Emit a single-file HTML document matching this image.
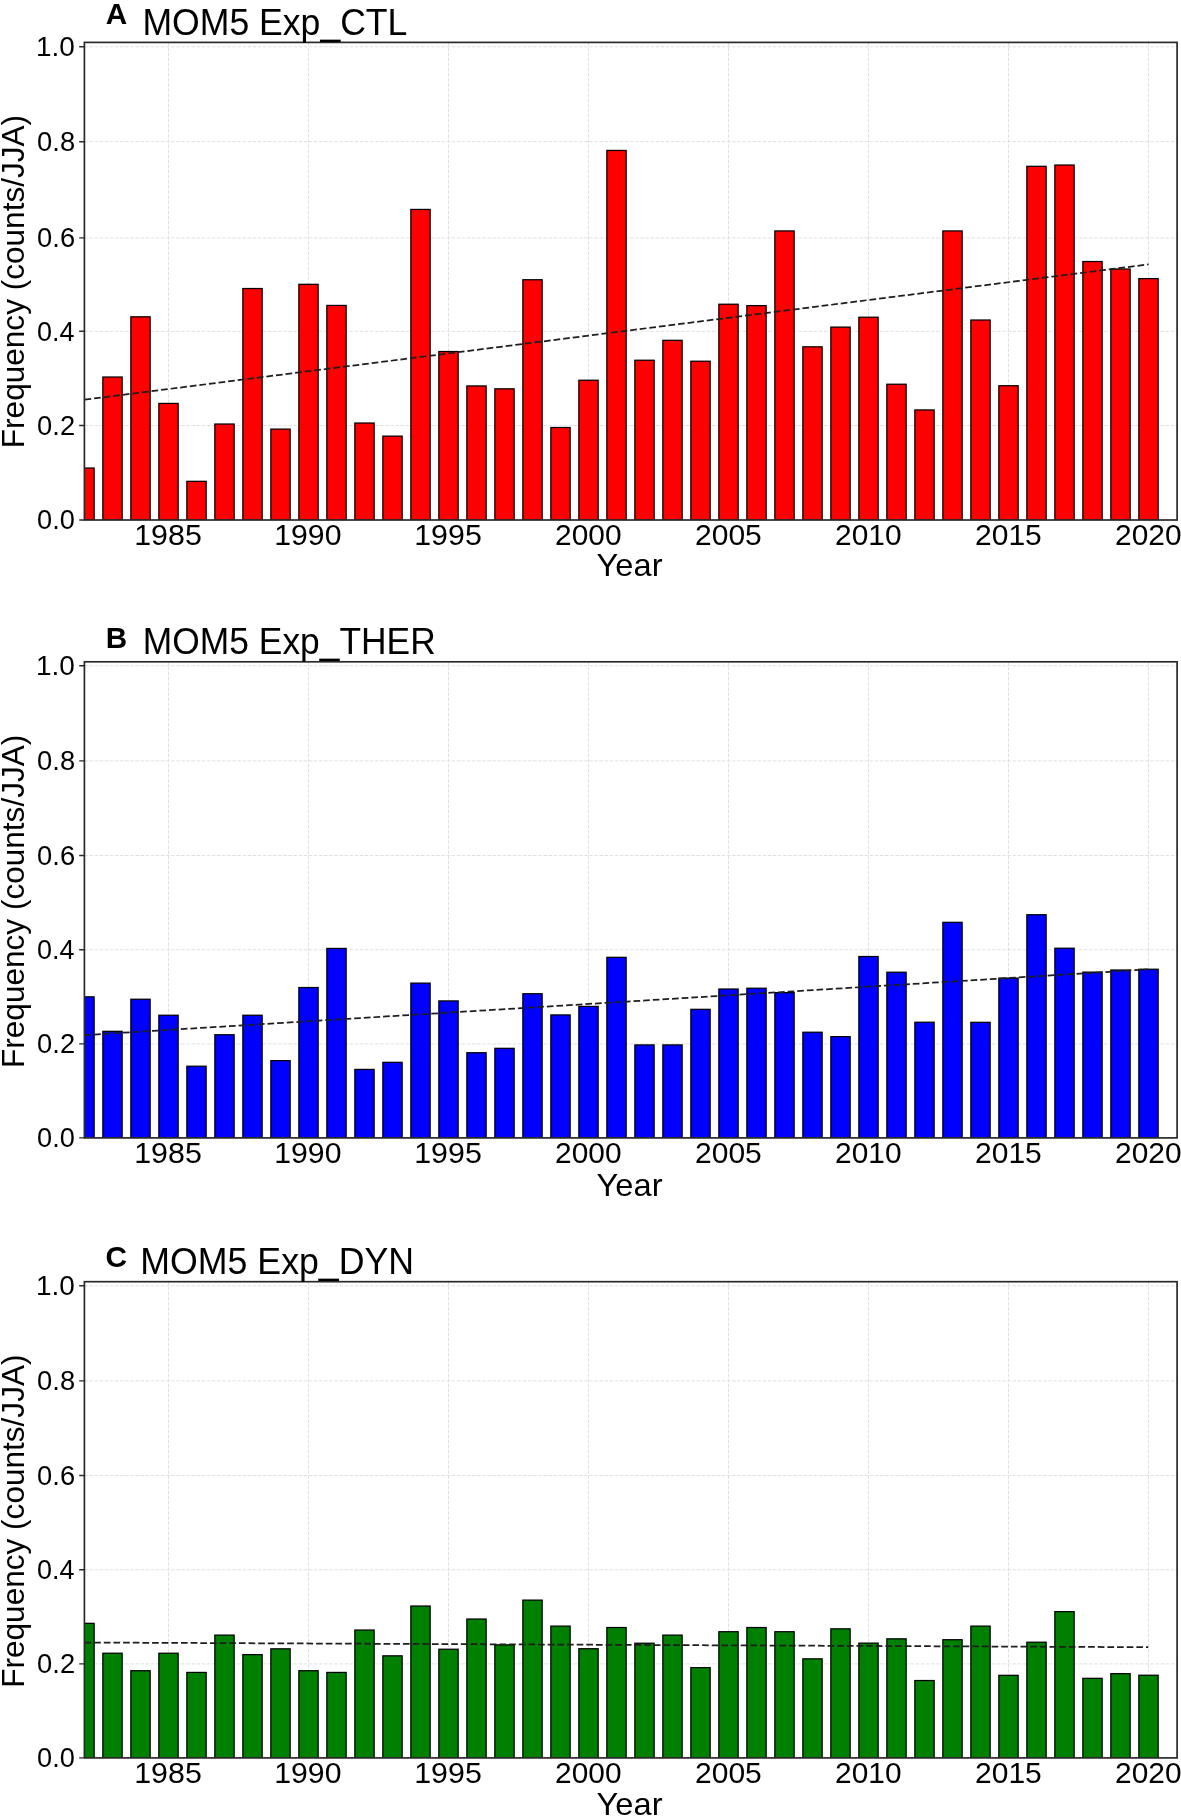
<!DOCTYPE html><html><head><meta charset="utf-8"><style>html,body{margin:0;padding:0;background:#fff;}svg{display:block;will-change:transform;}text{font-family:"Liberation Sans",sans-serif;fill:#000;}</style></head><body>
<svg width="1181" height="1817" viewBox="0 0 1181 1817">
<clipPath id="c0"><rect x="84.4" y="42.4" width="1092.6999999999998" height="477.6"/></clipPath>
<path d="M84.4 425.5H1177.1M84.4 331.3H1177.1M84.4 237.9H1177.1M84.4 141.7H1177.1M84.4 46.8H1177.1M168.5 42.4V520.0M308.5 42.4V520.0M448.5 42.4V520.0M588.5 42.4V520.0M728.5 42.4V520.0M868.5 42.4V520.0M1008.5 42.4V520.0M1148.5 42.4V520.0" stroke="#e0e0e0" stroke-width="1" stroke-dasharray="3.5 1.6" fill="none"/>
<g clip-path="url(#c0)" fill="#ff0000" stroke="#000" stroke-width="1.25"><rect x="74.85" y="468.02" width="19.3" height="51.98"/><rect x="102.85" y="377.02" width="19.3" height="142.98"/><rect x="130.85" y="316.82" width="19.3" height="203.18"/><rect x="158.85" y="403.43" width="19.3" height="116.57"/><rect x="186.85" y="481.32" width="19.3" height="38.68"/><rect x="214.85" y="424.02" width="19.3" height="95.98"/><rect x="242.85" y="288.52" width="19.3" height="231.48"/><rect x="270.85" y="429.12" width="19.3" height="90.88"/><rect x="298.85" y="284.32" width="19.3" height="235.68"/><rect x="326.85" y="305.43" width="19.3" height="214.57"/><rect x="354.85" y="423.02" width="19.3" height="96.98"/><rect x="382.85" y="436.12" width="19.3" height="83.88"/><rect x="410.85" y="209.43" width="19.3" height="310.57"/><rect x="438.85" y="351.52" width="19.3" height="168.48"/><rect x="466.85" y="385.93" width="19.3" height="134.07"/><rect x="494.85" y="388.82" width="19.3" height="131.18"/><rect x="522.85" y="279.73" width="19.3" height="240.27"/><rect x="550.85" y="427.52" width="19.3" height="92.48"/><rect x="578.85" y="380.23" width="19.3" height="139.77"/><rect x="606.85" y="150.43" width="19.3" height="369.57"/><rect x="634.85" y="360.23" width="19.3" height="159.77"/><rect x="662.85" y="340.32" width="19.3" height="179.68"/><rect x="690.85" y="361.23" width="19.3" height="158.77"/><rect x="718.85" y="304.23" width="19.3" height="215.77"/><rect x="746.85" y="305.62" width="19.3" height="214.38"/><rect x="774.85" y="230.93" width="19.3" height="289.07"/><rect x="802.85" y="346.82" width="19.3" height="173.18"/><rect x="830.85" y="327.12" width="19.3" height="192.88"/><rect x="858.85" y="317.23" width="19.3" height="202.77"/><rect x="886.85" y="384.23" width="19.3" height="135.77"/><rect x="914.85" y="409.93" width="19.3" height="110.07"/><rect x="942.85" y="230.93" width="19.3" height="289.07"/><rect x="970.85" y="320.02" width="19.3" height="199.98"/><rect x="998.85" y="385.73" width="19.3" height="134.27"/><rect x="1026.85" y="166.32" width="19.3" height="353.68"/><rect x="1054.85" y="165.03" width="19.3" height="354.98"/><rect x="1082.85" y="261.52" width="19.3" height="258.48"/><rect x="1110.85" y="269.02" width="19.3" height="250.98"/><rect x="1138.85" y="278.62" width="19.3" height="241.38"/></g>
<line x1="84.5" y1="399.7" x2="1148.5" y2="264.4" stroke="#1e1e1e" stroke-width="1.75" stroke-dasharray="6.7 2.95"/>
<rect x="84.4" y="42.4" width="1092.6999999999998" height="477.6" fill="none" stroke="#2a2a2a" stroke-width="1.7"/>
<path d="M79.2 520.0H84.4M79.2 425.5H84.4M79.2 331.3H84.4M79.2 237.9H84.4M79.2 141.7H84.4M79.2 46.8H84.4" stroke="#2a2a2a" stroke-width="1.4"/>
<text x="37.09" y="529.30" font-size="27" font-weight="normal" textLength="37.76" lengthAdjust="spacingAndGlyphs">0.0</text>
<text x="37.09" y="434.80" font-size="27" font-weight="normal" textLength="38.03" lengthAdjust="spacingAndGlyphs">0.2</text>
<text x="37.10" y="340.60" font-size="27" font-weight="normal" textLength="37.49" lengthAdjust="spacingAndGlyphs">0.4</text>
<text x="37.09" y="247.20" font-size="27" font-weight="normal" textLength="38.03" lengthAdjust="spacingAndGlyphs">0.6</text>
<text x="37.09" y="151.00" font-size="27" font-weight="normal" textLength="38.03" lengthAdjust="spacingAndGlyphs">0.8</text>
<text x="36.03" y="56.10" font-size="27" font-weight="normal" textLength="38.85" lengthAdjust="spacingAndGlyphs">1.0</text>
<text x="134.23" y="544.80" font-size="28.8" font-weight="normal" textLength="67.56" lengthAdjust="spacingAndGlyphs">1985</text>
<text x="274.24" y="544.80" font-size="28.8" font-weight="normal" textLength="67.28" lengthAdjust="spacingAndGlyphs">1990</text>
<text x="414.23" y="544.80" font-size="28.8" font-weight="normal" textLength="67.56" lengthAdjust="spacingAndGlyphs">1995</text>
<text x="555.04" y="544.80" font-size="28.8" font-weight="normal" textLength="66.46" lengthAdjust="spacingAndGlyphs">2000</text>
<text x="695.04" y="544.80" font-size="28.8" font-weight="normal" textLength="66.73" lengthAdjust="spacingAndGlyphs">2005</text>
<text x="835.04" y="544.80" font-size="28.8" font-weight="normal" textLength="66.46" lengthAdjust="spacingAndGlyphs">2010</text>
<text x="975.04" y="544.80" font-size="28.8" font-weight="normal" textLength="66.73" lengthAdjust="spacingAndGlyphs">2015</text>
<text x="1115.04" y="544.80" font-size="28.8" font-weight="normal" textLength="66.46" lengthAdjust="spacingAndGlyphs">2020</text>
<text x="596.62" y="576.40" font-size="31.5" font-weight="normal" textLength="65.90" lengthAdjust="spacingAndGlyphs">Year</text>
<g transform="rotate(-90)"><text x="-448.20" y="23.60" font-size="31.5" font-weight="normal" textLength="333.30" lengthAdjust="spacingAndGlyphs">Frequency (counts/JJA)</text></g>
<text x="142.41" y="34.70" font-size="37" font-weight="normal" textLength="265.00" lengthAdjust="spacingAndGlyphs">MOM5 Exp_CTL</text>
<text x="105.66" y="24.10" font-size="30" font-weight="bold" textLength="21.46" lengthAdjust="spacingAndGlyphs">A</text>
<clipPath id="c1"><rect x="84.4" y="661.8" width="1092.6999999999998" height="476.10000000000014"/></clipPath>
<path d="M84.4 1043.9H1177.1M84.4 949.8H1177.1M84.4 855.5H1177.1M84.4 760.9H1177.1M84.4 665.8H1177.1M168.5 661.8V1137.9M308.5 661.8V1137.9M448.5 661.8V1137.9M588.5 661.8V1137.9M728.5 661.8V1137.9M868.5 661.8V1137.9M1008.5 661.8V1137.9M1148.5 661.8V1137.9" stroke="#e0e0e0" stroke-width="1" stroke-dasharray="3.5 1.6" fill="none"/>
<g clip-path="url(#c1)" fill="#0000ff" stroke="#000" stroke-width="1.25"><rect x="74.85" y="996.83" width="19.3" height="141.08"/><rect x="102.85" y="1031.33" width="19.3" height="106.58"/><rect x="130.85" y="999.23" width="19.3" height="138.68"/><rect x="158.85" y="1015.23" width="19.3" height="122.68"/><rect x="186.85" y="1066.22" width="19.3" height="71.68"/><rect x="214.85" y="1034.72" width="19.3" height="103.18"/><rect x="242.85" y="1015.23" width="19.3" height="122.68"/><rect x="270.85" y="1060.62" width="19.3" height="77.28"/><rect x="298.85" y="987.52" width="19.3" height="150.38"/><rect x="326.85" y="948.42" width="19.3" height="189.48"/><rect x="354.85" y="1069.42" width="19.3" height="68.48"/><rect x="382.85" y="1062.33" width="19.3" height="75.58"/><rect x="410.85" y="983.12" width="19.3" height="154.78"/><rect x="438.85" y="1000.92" width="19.3" height="136.98"/><rect x="466.85" y="1052.72" width="19.3" height="85.18"/><rect x="494.85" y="1048.33" width="19.3" height="89.58"/><rect x="522.85" y="993.73" width="19.3" height="144.18"/><rect x="550.85" y="1014.92" width="19.3" height="122.98"/><rect x="578.85" y="1006.42" width="19.3" height="131.48"/><rect x="606.85" y="957.33" width="19.3" height="180.58"/><rect x="634.85" y="1044.92" width="19.3" height="92.98"/><rect x="662.85" y="1044.92" width="19.3" height="92.98"/><rect x="690.85" y="1009.33" width="19.3" height="128.58"/><rect x="718.85" y="989.02" width="19.3" height="148.88"/><rect x="746.85" y="988.23" width="19.3" height="149.68"/><rect x="774.85" y="992.62" width="19.3" height="145.28"/><rect x="802.85" y="1032.22" width="19.3" height="105.68"/><rect x="830.85" y="1036.62" width="19.3" height="101.28"/><rect x="858.85" y="956.52" width="19.3" height="181.38"/><rect x="886.85" y="972.23" width="19.3" height="165.68"/><rect x="914.85" y="1022.23" width="19.3" height="115.68"/><rect x="942.85" y="922.33" width="19.3" height="215.58"/><rect x="970.85" y="1022.33" width="19.3" height="115.58"/><rect x="998.85" y="978.12" width="19.3" height="159.78"/><rect x="1026.85" y="914.73" width="19.3" height="223.18"/><rect x="1054.85" y="948.23" width="19.3" height="189.68"/><rect x="1082.85" y="972.12" width="19.3" height="165.78"/><rect x="1110.85" y="970.02" width="19.3" height="167.88"/><rect x="1138.85" y="969.23" width="19.3" height="168.68"/></g>
<line x1="84.5" y1="1035.1" x2="1148.0" y2="969.4" stroke="#1e1e1e" stroke-width="1.75" stroke-dasharray="6.7 2.95"/>
<rect x="84.4" y="661.8" width="1092.6999999999998" height="476.10000000000014" fill="none" stroke="#2a2a2a" stroke-width="1.7"/>
<path d="M79.2 1137.9H84.4M79.2 1043.9H84.4M79.2 949.8H84.4M79.2 855.5H84.4M79.2 760.9H84.4M79.2 665.8H84.4" stroke="#2a2a2a" stroke-width="1.4"/>
<text x="37.09" y="1147.20" font-size="27" font-weight="normal" textLength="37.76" lengthAdjust="spacingAndGlyphs">0.0</text>
<text x="37.09" y="1053.20" font-size="27" font-weight="normal" textLength="38.03" lengthAdjust="spacingAndGlyphs">0.2</text>
<text x="37.10" y="959.10" font-size="27" font-weight="normal" textLength="37.49" lengthAdjust="spacingAndGlyphs">0.4</text>
<text x="37.09" y="864.80" font-size="27" font-weight="normal" textLength="38.03" lengthAdjust="spacingAndGlyphs">0.6</text>
<text x="37.09" y="770.20" font-size="27" font-weight="normal" textLength="38.03" lengthAdjust="spacingAndGlyphs">0.8</text>
<text x="36.03" y="675.10" font-size="27" font-weight="normal" textLength="38.85" lengthAdjust="spacingAndGlyphs">1.0</text>
<text x="134.23" y="1163.40" font-size="28.8" font-weight="normal" textLength="67.56" lengthAdjust="spacingAndGlyphs">1985</text>
<text x="274.24" y="1163.40" font-size="28.8" font-weight="normal" textLength="67.28" lengthAdjust="spacingAndGlyphs">1990</text>
<text x="414.23" y="1163.40" font-size="28.8" font-weight="normal" textLength="67.56" lengthAdjust="spacingAndGlyphs">1995</text>
<text x="555.04" y="1163.40" font-size="28.8" font-weight="normal" textLength="66.46" lengthAdjust="spacingAndGlyphs">2000</text>
<text x="695.04" y="1163.40" font-size="28.8" font-weight="normal" textLength="66.73" lengthAdjust="spacingAndGlyphs">2005</text>
<text x="835.04" y="1163.40" font-size="28.8" font-weight="normal" textLength="66.46" lengthAdjust="spacingAndGlyphs">2010</text>
<text x="975.04" y="1163.40" font-size="28.8" font-weight="normal" textLength="66.73" lengthAdjust="spacingAndGlyphs">2015</text>
<text x="1115.04" y="1163.40" font-size="28.8" font-weight="normal" textLength="66.46" lengthAdjust="spacingAndGlyphs">2020</text>
<text x="596.62" y="1195.60" font-size="31.5" font-weight="normal" textLength="65.90" lengthAdjust="spacingAndGlyphs">Year</text>
<g transform="rotate(-90)"><text x="-1068.00" y="23.60" font-size="31.5" font-weight="normal" textLength="333.30" lengthAdjust="spacingAndGlyphs">Frequency (counts/JJA)</text></g>
<text x="142.83" y="654.20" font-size="37" font-weight="normal" textLength="292.93" lengthAdjust="spacingAndGlyphs">MOM5 Exp_THER</text>
<text x="105.83" y="647.80" font-size="30" font-weight="bold" textLength="21.38" lengthAdjust="spacingAndGlyphs">B</text>
<clipPath id="c2"><rect x="84.4" y="1281.7" width="1092.6999999999998" height="476.20000000000005"/></clipPath>
<path d="M84.4 1663.9H1177.1M84.4 1569.8H1177.1M84.4 1475.5H1177.1M84.4 1380.9H1177.1M84.4 1285.8H1177.1M168.5 1281.7V1757.9M308.5 1281.7V1757.9M448.5 1281.7V1757.9M588.5 1281.7V1757.9M728.5 1281.7V1757.9M868.5 1281.7V1757.9M1008.5 1281.7V1757.9M1148.5 1281.7V1757.9" stroke="#e0e0e0" stroke-width="1" stroke-dasharray="3.5 1.6" fill="none"/>
<g clip-path="url(#c2)" fill="#008000" stroke="#000" stroke-width="1.25"><rect x="74.85" y="1623.33" width="19.3" height="134.58"/><rect x="102.85" y="1653.22" width="19.3" height="104.68"/><rect x="130.85" y="1670.72" width="19.3" height="87.18"/><rect x="158.85" y="1653.22" width="19.3" height="104.68"/><rect x="186.85" y="1672.42" width="19.3" height="85.48"/><rect x="214.85" y="1635.12" width="19.3" height="122.78"/><rect x="242.85" y="1654.62" width="19.3" height="103.28"/><rect x="270.85" y="1648.83" width="19.3" height="109.08"/><rect x="298.85" y="1670.72" width="19.3" height="87.18"/><rect x="326.85" y="1672.42" width="19.3" height="85.48"/><rect x="354.85" y="1630.03" width="19.3" height="127.88"/><rect x="382.85" y="1655.83" width="19.3" height="102.08"/><rect x="410.85" y="1606.03" width="19.3" height="151.88"/><rect x="438.85" y="1649.22" width="19.3" height="108.68"/><rect x="466.85" y="1619.03" width="19.3" height="138.88"/><rect x="494.85" y="1644.83" width="19.3" height="113.08"/><rect x="522.85" y="1600.12" width="19.3" height="157.78"/><rect x="550.85" y="1626.12" width="19.3" height="131.78"/><rect x="578.85" y="1648.72" width="19.3" height="109.18"/><rect x="606.85" y="1627.53" width="19.3" height="130.38"/><rect x="634.85" y="1643.22" width="19.3" height="114.68"/><rect x="662.85" y="1635.12" width="19.3" height="122.78"/><rect x="690.85" y="1667.62" width="19.3" height="90.28"/><rect x="718.85" y="1631.72" width="19.3" height="126.18"/><rect x="746.85" y="1627.53" width="19.3" height="130.38"/><rect x="774.85" y="1631.72" width="19.3" height="126.18"/><rect x="802.85" y="1658.83" width="19.3" height="99.08"/><rect x="830.85" y="1628.83" width="19.3" height="129.08"/><rect x="858.85" y="1643.12" width="19.3" height="114.78"/><rect x="886.85" y="1638.83" width="19.3" height="119.08"/><rect x="914.85" y="1680.53" width="19.3" height="77.38"/><rect x="942.85" y="1639.72" width="19.3" height="118.18"/><rect x="970.85" y="1626.12" width="19.3" height="131.78"/><rect x="998.85" y="1675.33" width="19.3" height="82.58"/><rect x="1026.85" y="1642.22" width="19.3" height="115.68"/><rect x="1054.85" y="1611.62" width="19.3" height="146.28"/><rect x="1082.85" y="1678.33" width="19.3" height="79.58"/><rect x="1110.85" y="1673.62" width="19.3" height="84.28"/><rect x="1138.85" y="1675.22" width="19.3" height="82.68"/></g>
<line x1="84.5" y1="1642.5" x2="1148.3" y2="1647.2" stroke="#1e1e1e" stroke-width="1.75" stroke-dasharray="6.7 2.95"/>
<rect x="84.4" y="1281.7" width="1092.6999999999998" height="476.20000000000005" fill="none" stroke="#2a2a2a" stroke-width="1.7"/>
<path d="M79.2 1757.9H84.4M79.2 1663.9H84.4M79.2 1569.8H84.4M79.2 1475.5H84.4M79.2 1380.9H84.4M79.2 1285.8H84.4" stroke="#2a2a2a" stroke-width="1.4"/>
<text x="37.09" y="1767.20" font-size="27" font-weight="normal" textLength="37.76" lengthAdjust="spacingAndGlyphs">0.0</text>
<text x="37.09" y="1673.20" font-size="27" font-weight="normal" textLength="38.03" lengthAdjust="spacingAndGlyphs">0.2</text>
<text x="37.10" y="1579.10" font-size="27" font-weight="normal" textLength="37.49" lengthAdjust="spacingAndGlyphs">0.4</text>
<text x="37.09" y="1484.80" font-size="27" font-weight="normal" textLength="38.03" lengthAdjust="spacingAndGlyphs">0.6</text>
<text x="37.09" y="1390.20" font-size="27" font-weight="normal" textLength="38.03" lengthAdjust="spacingAndGlyphs">0.8</text>
<text x="36.03" y="1295.10" font-size="27" font-weight="normal" textLength="38.85" lengthAdjust="spacingAndGlyphs">1.0</text>
<text x="134.23" y="1783.00" font-size="28.8" font-weight="normal" textLength="67.56" lengthAdjust="spacingAndGlyphs">1985</text>
<text x="274.24" y="1783.00" font-size="28.8" font-weight="normal" textLength="67.28" lengthAdjust="spacingAndGlyphs">1990</text>
<text x="414.23" y="1783.00" font-size="28.8" font-weight="normal" textLength="67.56" lengthAdjust="spacingAndGlyphs">1995</text>
<text x="555.04" y="1783.00" font-size="28.8" font-weight="normal" textLength="66.46" lengthAdjust="spacingAndGlyphs">2000</text>
<text x="695.04" y="1783.00" font-size="28.8" font-weight="normal" textLength="66.73" lengthAdjust="spacingAndGlyphs">2005</text>
<text x="835.04" y="1783.00" font-size="28.8" font-weight="normal" textLength="66.46" lengthAdjust="spacingAndGlyphs">2010</text>
<text x="975.04" y="1783.00" font-size="28.8" font-weight="normal" textLength="66.73" lengthAdjust="spacingAndGlyphs">2015</text>
<text x="1115.04" y="1783.00" font-size="28.8" font-weight="normal" textLength="66.46" lengthAdjust="spacingAndGlyphs">2020</text>
<text x="596.62" y="1814.90" font-size="31.5" font-weight="normal" textLength="65.90" lengthAdjust="spacingAndGlyphs">Year</text>
<g transform="rotate(-90)"><text x="-1687.80" y="23.60" font-size="31.5" font-weight="normal" textLength="333.30" lengthAdjust="spacingAndGlyphs">Frequency (counts/JJA)</text></g>
<text x="140.31" y="1273.60" font-size="37" font-weight="normal" textLength="273.77" lengthAdjust="spacingAndGlyphs">MOM5 Exp_DYN</text>
<text x="105.56" y="1266.60" font-size="30" font-weight="bold" textLength="21.56" lengthAdjust="spacingAndGlyphs">C</text>
</svg></body></html>
